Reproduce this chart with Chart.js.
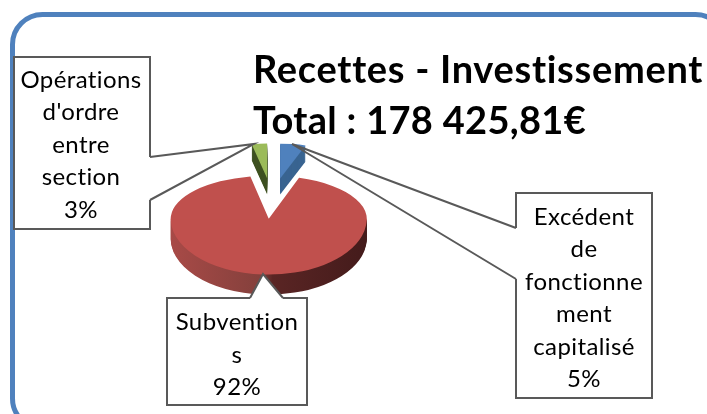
<!DOCTYPE html>
<html>
<head>
<meta charset="utf-8">
<style>
  html, body { margin: 0; padding: 0; background: #fff; overflow: hidden; }
  canvas { display: block; }
</style>
<script src="https://cdn.jsdelivr.net/npm/chart.js@4"></script>
</head>
<body>
<canvas id="pie-chart" width="707" height="414"></canvas>
<script>
const titleLines = ['Recettes - Investissement', 'Total : 178 425,81€'];
const categories = ['Excédent de fonctionnement capitalisé', 'Subventions', "Opérations d'ordre entre section"];
const shares = [5, 92, 3];
const labelLines = [
  ['Excédent', 'de', 'fonctionne', 'ment', 'capitalisé'],
  ['Subvention', 's'],
  ['Opérations', "d'ordre", 'entre', 'section']
];

const topColors = ['#4f81bd', '#c0504d', '#9bbb59'];
const wallColors = ['#3a6491', null, '#3f5222'];

// how each slice is squashed to look like a tilted 3D pie
const explode = 52;
const explodeTilt = 0.39;
const sliceLook = [
  { sx: 0.84, kTop: 0.355, kBottom: 0.355, depth: 16 },
  { sx: 1, kTop: 0.44, kBottom: 0.57, depth: 20 },
  { sx: 0.84, kTop: 0.355, kBottom: 0.355, depth: 16 }
];

// callout boxes: box rect, wedge points on the box edge and the tip
const callouts = [
  { x: 516, y: 193, w: 136, h: 205, cx: 584, firstLine: 225, step: 32.4, wedge: [[516, 228], [292, 144], [516, 279]] },
  { x: 167, y: 298, w: 140, h: 107, cx: 237, firstLine: 330, step: 32.5, wedge: [[250, 298], [263, 274], [283, 298]], fillWedge: true },
  { x: 14, y: 57, w: 136, h: 172, cx: 81, firstLine: 88, step: 32.4, wedge: [[150, 157], [254, 144], [150, 200]] }
];

function paintArc(ctx, arc, tx, ty, sx, ky, fill) {
  const saved = arc.options;
  arc.options = {
    backgroundColor: fill, borderColor: fill, borderWidth: 0, offset: 0, spacing: 0,
    borderRadius: 0, circular: true, borderAlign: 'center', selfJoin: false
  };
  ctx.save();
  ctx.translate(tx, ty);
  ctx.scale(sx, ky);
  ctx.translate(-arc.x, -arc.y);
  arc.draw(ctx);
  ctx.restore();
  arc.options = saved;
}

function clipped(ctx, y0, y1, fn) {
  ctx.save();
  ctx.beginPath();
  ctx.rect(0, y0, 707, y1 - y0);
  ctx.clip();
  fn();
  ctx.restore();
}

const tiltedPie = {
  id: 'tiltedPie',
  beforeDatasetDraw(chart, args) {
    const ctx = chart.ctx;
    const arcs = chart.getDatasetMeta(args.index).data;

    arcs.forEach((arc, i) => {
      const look = sliceLook[i];
      const mid = (arc.startAngle + arc.endAngle) / 2;
      const tx = arc.x + Math.cos(mid) * explode;
      const ty = arc.y + Math.sin(mid) * explode * explodeTilt;
      const r = arc.outerRadius;

      // side wall, stacked copies going down
      let wall = wallColors[i];
      if (!wall) {
        wall = ctx.createLinearGradient(arc.x - r, 0, arc.x + r, 0);
        wall.addColorStop(0, '#a84a47');
        wall.addColorStop(0.46, '#84403c');
        wall.addColorStop(0.52, '#5a2524');
        wall.addColorStop(1, '#441b1b');
      }
      for (let d = look.depth; d >= 1; d--) {
        if (look.kTop === look.kBottom) {
          paintArc(ctx, arc, tx, ty + d, look.sx, look.kBottom, wall);
        } else {
          clipped(ctx, ty + d, 414, () => paintArc(ctx, arc, tx, ty + d, look.sx, look.kBottom, wall));
        }
      }

      // top face, far half is flatter than near half
      clipped(ctx, ty, 414, () => paintArc(ctx, arc, tx, ty, look.sx, look.kBottom, topColors[i]));
      clipped(ctx, 0, ty + 1, () => paintArc(ctx, arc, tx, ty, look.sx, look.kTop, topColors[i]));
    });
    return false;
  },
  afterDatasetsDraw(chart) {
    const ctx = chart.ctx;

    // rounded frame, runs off the right and bottom of the picture
    ctx.save();
    ctx.strokeStyle = '#4f81bd';
    ctx.lineWidth = 5;
    ctx.beginPath();
    ctx.roundRect(12.5, 14.5, 713, 414, 30);
    ctx.stroke();
    ctx.restore();

    // callouts
    ctx.save();
    ctx.lineWidth = 2;
    ctx.strokeStyle = '#595959';
    callouts.forEach((c, i) => {
      const [a, tip, b] = c.wedge;
      if (c.fillWedge) {
        ctx.fillStyle = '#fff';
        ctx.beginPath();
        ctx.moveTo(a[0], a[1]);
        ctx.lineTo(tip[0], tip[1]);
        ctx.lineTo(b[0], b[1]);
        ctx.closePath();
        ctx.fill();
      }
      ctx.fillStyle = '#fff';
      ctx.fillRect(c.x, c.y, c.w, c.h);
      ctx.strokeRect(c.x, c.y, c.w, c.h);
      // open the box edge where the wedge joins it
      ctx.strokeStyle = '#fff';
      ctx.beginPath();
      ctx.moveTo(a[0], a[1]);
      ctx.lineTo(b[0], b[1]);
      ctx.stroke();
      ctx.strokeStyle = '#595959';
      ctx.beginPath();
      ctx.moveTo(a[0], a[1]);
      ctx.lineTo(tip[0], tip[1]);
      ctx.lineTo(b[0], b[1]);
      ctx.stroke();

      ctx.fillStyle = '#000';
      ctx.font = '24px Lato';
      ctx.letterSpacing = '0.4px';
      ctx.textAlign = 'center';
      ctx.textBaseline = 'alphabetic';
      const lines = labelLines[i].concat(shares[i] + '%');
      lines.forEach((line, n) => ctx.fillText(line, c.cx, c.firstLine + n * c.step));
    });
    ctx.restore();

    // title
    ctx.save();
    ctx.fillStyle = '#000';
    ctx.font = 'bold 38px Lato';
    ctx.textAlign = 'left';
    ctx.textBaseline = 'alphabetic';
    ctx.letterSpacing = '0.7px';
    ctx.fillText(titleLines[0], 253, 83);
    ctx.letterSpacing = '0.3px';
    ctx.fillText(titleLines[1], 253, 134);
    ctx.restore();
  }
};

new Chart(document.getElementById('pie-chart'), {
  type: 'pie',
  data: {
    labels: categories,
    datasets: [{ data: shares, backgroundColor: topColors, borderWidth: 0 }]
  },
  options: {
    responsive: false,
    animation: false,
    radius: 98,
    layout: { padding: { right: 163, bottom: 17 } },
    plugins: { legend: { display: false }, tooltip: { enabled: false } }
  },
  plugins: [tiltedPie]
});
</script>
</body>
</html>
